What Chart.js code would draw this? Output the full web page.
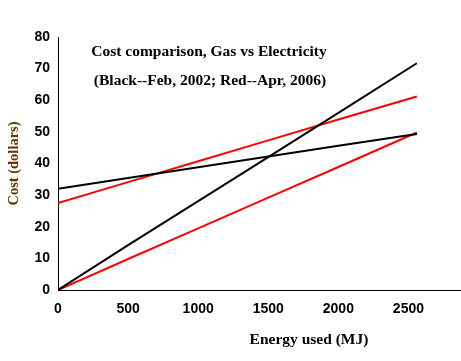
<!DOCTYPE html>
<html>
<head>
<meta charset="utf-8">
<script src="https://cdn.jsdelivr.net/npm/chart.js@4"></script>
<style>
  body { margin: 0; background: #fff; }
  #wrap { width: 461px; height: 361px; }
</style>
</head>
<body>
<div id="wrap"><canvas id="myChart" width="461" height="361"></canvas></div>
<script>
// energy used (MJ) and cost (dollars)
const energy = [0, 500, 1000, 1500, 2000, 2560];
const blackSteep = [0, 14.2, 28.1, 42.0, 56.0, 71.7];
const blackFlat = [32, 35.4, 38.8, 42.2, 45.6, 49.3];
const redSteep = [0, 9.8, 19.5, 29.2, 38.9, 49.8];
const redFlat = [27.5, 34.1, 40.7, 47.3, 53.9, 61.2];
const xTicks = [0, 500, 1000, 1500, 2000, 2500];
const yTicks = [0, 10, 20, 30, 40, 50, 60, 70, 80];

const titleLines = ["Cost comparison, Gas vs Electricity", "(Black--Feb, 2002; Red--Apr, 2006)"];

function pts(vals) {
    return energy.map((e, i) => ({x: e, y: vals[i]}));
}

const textPlugin = {
    id: 'textPlugin',
    afterDraw(chart) {
        const c = chart.ctx;
        c.save();
        c.fillStyle = '#000';
        c.textAlign = 'center';
        c.textBaseline = 'middle';
        c.font = 'bold 15.5px "Liberation Serif"';
        c.fillText(titleLines[0], 209, 52);
        c.fillText(titleLines[1], 210, 81);
        c.fillText("Energy used (MJ)", 309, 340);
        c.restore();
    }
};

function ds(label, vals, color) {
    return {
        label: label,
        data: pts(vals),
        borderColor: color,
        borderWidth: 2,
        pointRadius: 0,
        fill: false,
        tension: 0
    };
}

const tickFont = { family: '"Liberation Sans"', weight: 'bold', size: 14 };

const ctx = document.getElementById('myChart').getContext('2d');
const myChart = new Chart(ctx, {
    type: 'line',
    data: {
        datasets: [
            ds('Black steep', blackSteep, '#000000'),
            ds('Black flat', blackFlat, '#000000'),
            ds('Red steep', redSteep, '#ff0000'),
            ds('Red flat', redFlat, '#ff0000')
        ]
    },
    options: {
        responsive: false,
        animation: false,
        layout: { padding: { top: 37, right: 0, bottom: 0, left: 0 } },
        plugins: { legend: { display: false }, tooltip: { enabled: false } },
        scales: {
            x: {
                type: 'linear',
                min: 0,
                max: 2875,
                afterBuildTicks: s => { s.ticks = xTicks.map(v => ({value: v})); },
                afterFit: s => { s.height = 71; },
                grid: { display: false, drawTicks: true, tickLength: 5, tickColor: '#000' },
                border: { color: '#000', width: 1 },
                ticks: {
                    color: '#000',
                    font: tickFont,
                    padding: 6,
                    maxRotation: 0,
                    callback: v => String(v)
                }
            },
            y: {
                min: 0,
                max: 80,
                afterBuildTicks: s => { s.ticks = yTicks.map(v => ({value: v})); },
                afterFit: s => { s.width = 58; },
                grid: { display: false, drawTicks: true, tickLength: 5, tickColor: '#000' },
                border: { color: '#000', width: 1 },
                ticks: {
                    color: '#000',
                    font: tickFont,
                    padding: 3,
                    callback: v => String(v)
                },
                title: {
                    display: true,
                    text: 'Cost (dollars)',
                    color: '#663300',
                    font: { family: '"Liberation Serif"', weight: 'bold', size: 14.5 },
                    padding: { top: 6, bottom: 0 }
                }
            }
        }
    },
    plugins: [textPlugin]
});
</script>
</body>
</html>
